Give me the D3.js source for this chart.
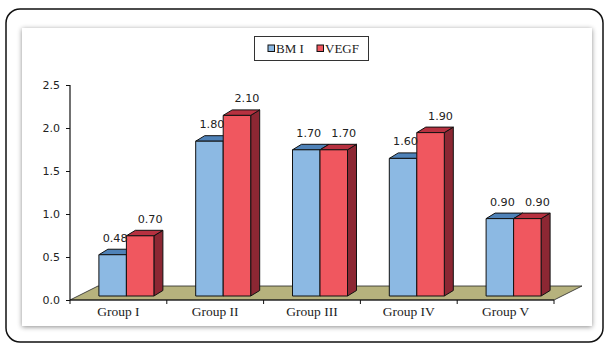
<!DOCTYPE html>
<html>
<head>
<meta charset="utf-8">
<script src="https://cdn.jsdelivr.net/npm/d3@7"></script>
<style>
  html, body { margin: 0; padding: 0; background: #fff; }
  svg { display: block; }
</style>
</head>
<body>
<svg id="chart" width="604" height="346"></svg>
<script>
// Chart data
const groups = ["Group I", "Group II", "Group III", "Group IV", "Group V"];
const seriesNames = ["BM I", "VEGF"];
const bmiValues = [0.48, 1.80, 1.70, 1.60, 0.90];
const vegfValues = [0.70, 2.10, 1.70, 1.90, 0.90];
const yTicks = [0, 0.5, 1.0, 1.5, 2.0, 2.5];

const seriesValues = [bmiValues, vegfValues];
const palette = [
  { front: "#8CB9E3", top: "#4F82B8", side: "#345E8C" },
  { front: "#F0575F", top: "#B73140", side: "#8C2733" }
];

const svg = d3.select("#chart");

// Panel shadow
const defs = svg.append("defs");
const f = defs.append("filter").attr("id", "shadow")
  .attr("x", "-5%").attr("y", "-5%").attr("width", "110%").attr("height", "110%");
f.append("feDropShadow").attr("dx", 0).attr("dy", 1)
  .attr("stdDeviation", 2.6).attr("flood-color", "#000").attr("flood-opacity", 0.45);

// Outer rounded frame
svg.append("rect")
  .attr("x", 6).attr("y", 9).attr("width", 597).attr("height", 333)
  .attr("rx", 14).attr("ry", 14)
  .attr("fill", "#fff").attr("stroke", "#111").attr("stroke-width", 1.5);

// Inner chart panel
svg.append("rect")
  .attr("x", 22).attr("y", 28).attr("width", 570).attr("height", 298)
  .attr("fill", "#fff").attr("filter", "url(#shadow)");

// Geometry
const axisLeft = 70, axisRight = 554, axisBottom = 300;
const floorDx = 28, floorDy = -14;        // full floor depth
const barShiftX = 8, barBase = 296;       // bar front plane inside the floor
const depthX = 9, depthY = -5.5;          // bar thickness in depth

const x = d3.scaleBand().domain(groups).range([axisLeft, axisRight]).padding(0);
const yAxisScale = d3.scaleLinear().domain([0, 2.5]).range([axisBottom, 85]);
const yBar = d3.scaleLinear().domain([0, 2.5]).range([barBase, barBase - 215]);
const barW = 27.5;

// Floor
const floorPts = [
  [axisLeft, axisBottom], [axisRight, axisBottom],
  [axisRight + floorDx, axisBottom + floorDy], [axisLeft + floorDx, axisBottom + floorDy]
];
svg.append("polygon")
  .attr("points", floorPts.map(p => p.join(",")).join(" "))
  .attr("fill", "#B6B27D").attr("stroke", "#222").attr("stroke-width", 0.8);

// Y axis
const yAxis = d3.axisLeft(yAxisScale).tickValues(yTicks)
  .tickFormat(d3.format(".1f")).tickSize(4).tickPadding(6);
const gy = svg.append("g").attr("transform", `translate(${axisLeft},0)`).call(yAxis);
gy.select(".domain").attr("stroke", "#111").attr("stroke-width", 1.2)
  .attr("d", `M0,${yAxisScale(2.5)}V${axisBottom}`);
gy.selectAll(".tick line").attr("stroke", "#111");
gy.selectAll(".tick text")
  .attr("font-family", "DejaVu Sans, sans-serif").attr("font-size", 11).attr("fill", "#222");

// X axis with ticks at category boundaries
const gx = svg.append("g").attr("transform", `translate(0,${axisBottom})`);
gx.append("line").attr("x1", axisLeft).attr("x2", axisRight)
  .attr("stroke", "#111").attr("stroke-width", 1.2);
const bounds = groups.map(g => x(g)).concat([x(groups[groups.length - 1]) + x.bandwidth()]);
gx.selectAll(".bt").data(bounds).enter().append("line")
  .attr("x1", d => d).attr("x2", d => d).attr("y1", 0).attr("y2", 4)
  .attr("stroke", "#111");
gx.selectAll(".cat").data(groups).enter().append("text")
  .attr("x", d => x(d) + x.bandwidth() / 2).attr("y", 16)
  .attr("text-anchor", "middle")
  .attr("font-family", "Liberation Serif, Times New Roman, serif")
  .attr("font-size", 13.5).attr("fill", "#222")
  .text(d => d);

// 3D bars
const bars = svg.append("g").attr("stroke", "#111").attr("stroke-width", 1)
  .attr("stroke-linejoin", "round");
const labels = svg.append("g")
  .attr("font-family", "DejaVu Sans, sans-serif").attr("font-size", 11.2)
  .attr("fill", "#222").attr("text-anchor", "middle");
const labelShift = [2.5, 10];

groups.forEach((g, gi) => {
  const center = x(g) + x.bandwidth() / 2 + barShiftX;
  seriesValues.forEach((vals, si) => {
    const v = vals[gi];
    const x0 = center - barW + si * barW, x1 = x0 + barW;
    const yt = yBar(v), yb = yBar(0);
    const c = palette[si];
    const poly = pts => pts.map(p => p.join(",")).join(" ");
    // side face
    bars.append("polygon").attr("fill", c.side)
      .attr("points", poly([[x1, yb], [x1 + depthX, yb + depthY], [x1 + depthX, yt + depthY], [x1, yt]]));
    // top face
    bars.append("polygon").attr("fill", c.top)
      .attr("points", poly([[x0, yt], [x1, yt], [x1 + depthX, yt + depthY], [x0 + depthX, yt + depthY]]));
    // front face
    bars.append("rect").attr("fill", c.front)
      .attr("x", x0).attr("y", yt).attr("width", barW).attr("height", yb - yt);
    // value label
    labels.append("text")
      .attr("x", (x0 + x1) / 2 + labelShift[si])
      .attr("y", yt + depthY - 7.5)
      .text(d3.format(".2f")(v));
  });
});

// Legend
const lg = svg.append("g");
lg.append("rect").attr("x", 254.5).attr("y", 36.5).attr("width", 114).attr("height", 24)
  .attr("fill", "#fff").attr("stroke", "#333").attr("stroke-width", 1);
const legendX = [268, 317];
seriesNames.forEach((name, i) => {
  lg.append("rect").attr("x", legendX[i]).attr("y", 45).attr("width", 6.5).attr("height", 6.5)
    .attr("fill", palette[i].front).attr("stroke", "#111").attr("stroke-width", 1);
  lg.append("text").attr("x", legendX[i] + 8).attr("y", 52.5)
    .attr("font-family", "Liberation Serif, Times New Roman, serif")
    .attr("font-size", 13).attr("fill", "#222").text(name);
});
</script>
</body>
</html>
